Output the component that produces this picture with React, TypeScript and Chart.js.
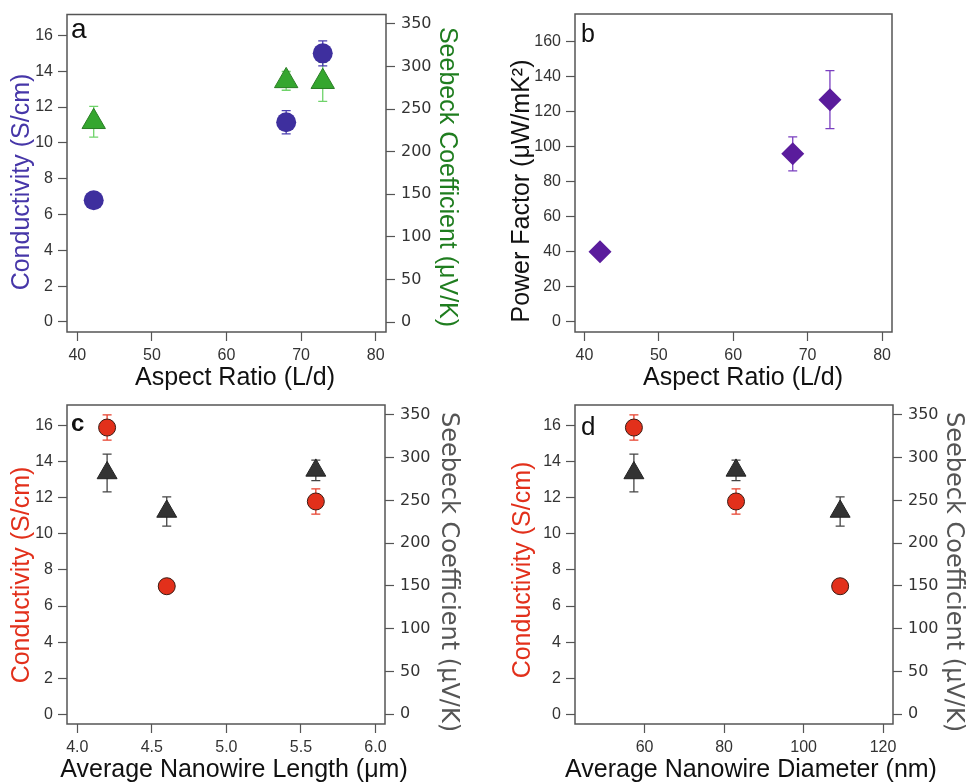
import React, { useEffect, useRef } from "react";
import { Chart, registerables } from "chart.js";

Chart.register(...registerables);

// ---------- data ----------
// Panel a: vs aspect ratio
const aspectRatioA = [42.2, 68, 72.9];
const conductivityA = [6.8, 11.15, 15.0];
const conductivityAErr = [0.15, 0.65, 0.7];
const seebeckA = [235, 283, 282];
const seebeckAErr = [18, 11, 23];

// Panel b: power factor vs aspect ratio
const aspectRatioB = [42.1, 68, 73];
const powerFactorB = [40, 96, 127];
const powerFactorBErr = [3, 9.7, 16.6];

// Panel c: vs average nanowire length
const lengthC = [4.2, 4.6, 5.6];
const conductivityC = [15.9, 7.1, 11.8];
const conductivityCErr = [0.7, 0.15, 0.7];
const seebeckC = [282, 237, 285];
const seebeckCErr = [22, 17, 12];

// Panel d: vs average nanowire diameter
const diameterD = [57.3, 83, 109.2];
const conductivityD = [15.9, 11.8, 7.1];
const conductivityDErr = [0.7, 0.7, 0.15];
const seebeckD = [282, 285, 237];
const seebeckDErr = [22, 12, 17];

// ticks
const condTicks = [0, 2, 4, 6, 8, 10, 12, 14, 16];
const seebeckTicks = [0, 50, 100, 150, 200, 250, 300, 350];
const aspectTicks = [40, 50, 60, 70, 80];
const pfTicks = [0, 20, 40, 60, 80, 100, 120, 140, 160];
const lengthTicks = [4.0, 4.5, 5.0, 5.5, 6.0];
const diameterTicks = [60, 80, 100, 120];

// axis titles
const titleAspect = "Aspect Ratio (L/d)";
const titleLength = "Average Nanowire Length (μm)";
const titleDiameter = "Average Nanowire Diameter (nm)";
const titleCond = "Conductivity (S/cm)";
const titleSeebeck = "Seebeck Coefficient (μV/K)";
const titlePF = "Power Factor (μW/mK²)";

// ---------- plugins ----------
const errorBarPlugin = {
  id: "errorBars",
  beforeDatasetsDraw(chart: any) {
    const ctx = chart.ctx;
    const xs = chart.scales.x;
    chart.data.datasets.forEach((ds: any) => {
      const errs: number[] | undefined = ds.errors;
      if (!errs) return;
      const ys = chart.scales[ds.yAxisID];
      ctx.save();
      ctx.strokeStyle = ds.errorColor;
      ctx.lineWidth = 1.3;
      ds.data.forEach((p: any, j: number) => {
        const e = errs[j];
        if (!e) return;
        const px = xs.getPixelForValue(p.x);
        const yTop = ys.getPixelForValue(p.y + e);
        const yBot = ys.getPixelForValue(p.y - e);
        ctx.beginPath();
        ctx.moveTo(px, yTop);
        ctx.lineTo(px, yBot);
        ctx.moveTo(px - 4.5, yTop);
        ctx.lineTo(px + 4.5, yTop);
        ctx.moveTo(px - 4.5, yBot);
        ctx.lineTo(px + 4.5, yBot);
        ctx.stroke();
      });
      ctx.restore();
    });
  },
};

const framePlugin = {
  id: "frame",
  afterDraw(chart: any, _args: any, opts: any) {
    const { ctx, chartArea } = chart;
    ctx.save();
    ctx.strokeStyle = "#555";
    ctx.lineWidth = 1.5;
    ctx.strokeRect(chartArea.left, chartArea.top, chartArea.right - chartArea.left, chartArea.bottom - chartArea.top);
    if (opts && opts.letter) {
      ctx.fillStyle = "#111";
      ctx.font = opts.font;
      ctx.textBaseline = "alphabetic";
      ctx.textAlign = "left";
      ctx.fillText(opts.letter, chartArea.left + opts.dx, chartArea.top + opts.dy);
    }
    ctx.restore();
  },
};

// axis titles drawn without Chart.js's maxWidth squeeze
const axisTitlePlugin = {
  id: "axisTitles",
  afterDraw(chart: any, _args: any, opts: any) {
    const ctx = chart.ctx;
    (opts.items || []).forEach((t: any) => {
      ctx.save();
      ctx.translate(t.cx, t.cy);
      ctx.rotate(t.rot);
      ctx.font = t.font;
      ctx.fillStyle = t.color;
      ctx.textAlign = "center";
      ctx.textBaseline = "middle";
      ctx.fillText(t.text, 0, 0);
      ctx.restore();
    });
  },
};

// ---------- helpers ----------
const fixedTicks = (vals: number[]) => (s: any) => {
  s.ticks = vals.map((v) => ({ value: v }));
};

const gridCfg = {
  drawOnChartArea: false,
  drawTicks: true,
  tickLength: 9,
  tickColor: "#555",
  tickWidth: 1.2,
};

const ARIAL = "Liberation Sans, Arial, sans-serif";
const DEJAVU = "DejaVu Sans, Verdana, sans-serif";

function xAxis(min: number, max: number, ticks: number[], decimals: number, h: number) {
  return {
    type: "linear",
    position: "bottom",
    min,
    max,
    afterBuildTicks: fixedTicks(ticks),
    afterFit: (s: any) => {
      s.height = h;
      s.paddingLeft = 0;
      s.paddingRight = 0;
    },
    grid: gridCfg,
    border: { display: false },
    ticks: {
      color: "#333",
      padding: 5,
      font: { family: ARIAL, size: 16 },
      callback: (v: number) => v.toFixed(decimals),
    },
    title: { display: false },
  };
}

function yAxis(position: string, min: number, max: number, ticks: number[], w: number, family: string, pad: number) {
  return {
    type: "linear",
    position,
    min,
    max,
    afterBuildTicks: fixedTicks(ticks),
    afterFit: (s: any) => {
      s.width = w;
      s.paddingTop = 0;
      s.paddingBottom = 0;
    },
    grid: gridCfg,
    border: { display: false },
    ticks: {
      color: "#333",
      padding: pad,
      font: { family, size: 16 },
      callback: (v: number) => String(v),
    },
    title: { display: false },
  };
}

function pts(xs: number[], ys: number[]) {
  return xs.map((x, i) => ({ x, y: ys[i] }));
}

const UP = -Math.PI / 2;
const DOWN = Math.PI / 2;

// ---------- panel ----------
function Panel({ config, left, top, width, height }: any) {
  const ref = useRef<HTMLCanvasElement | null>(null);
  useEffect(() => {
    if (!ref.current) return;
    const chart = new Chart(ref.current, config);
    return () => chart.destroy();
  }, []);
  return (
    <div style={{ position: "absolute", left, top, width, height }}>
      <canvas ref={ref} width={width} height={height} style={{ width, height, display: "block" }} />
    </div>
  );
}

const baseOptions = (padTop: number, padRight: number, letter: any, titles: any[], scales: any) => ({
  responsive: false,
  animation: false,
  layout: { padding: { top: padTop, right: padRight, left: 0, bottom: 0 } },
  plugins: {
    legend: { display: false },
    tooltip: { enabled: false },
    frame: letter,
    axisTitles: { items: titles },
  },
  scales,
});

const configA = {
  type: "scatter",
  data: {
    datasets: [
      {
        label: "Seebeck",
        data: pts(aspectRatioA, seebeckA),
        yAxisID: "y1",
        errors: seebeckAErr,
        errorColor: "#6fd36a",
        pointStyle: "triangle",
        pointRadius: 13.5,
        backgroundColor: "#35a62f",
        borderColor: "#2a7d25",
        borderWidth: 1,
      },
      {
        label: "Conductivity",
        data: pts(aspectRatioA, conductivityA),
        yAxisID: "y",
        errors: conductivityAErr,
        errorColor: "#4b3fb0",
        pointStyle: "circle",
        pointRadius: 10,
        backgroundColor: "#3e2f9e",
        borderColor: "#3e2f9e",
        borderWidth: 0,
      },
    ],
  },
  options: baseOptions(
    14,
    0,
    { letter: "a", font: `28px ${ARIAL}`, dx: 4, dy: 23 },
    [
      { text: titleAspect, cx: 235, cy: 378, rot: 0, font: `25px ${ARIAL}`, color: "#111" },
      { text: titleCond, cx: 22, cy: 182, rot: UP, font: `25px ${ARIAL}`, color: "#4636a8" },
      { text: titleSeebeck, cx: 447, cy: 177, rot: DOWN, font: `25px ${ARIAL}`, color: "#1f7d1f" },
    ],
    {
      x: xAxis(38.62, 81.38, aspectTicks, 0, 60),
      y: yAxis("left", -0.56, 17.17, condTicks, 67, ARIAL, 5),
      y1: yAxis("right", -11.7, 360.9, seebeckTicks, 97, DEJAVU, 6),
    }
  ),
  plugins: [errorBarPlugin, framePlugin, axisTitlePlugin],
};

const configB = {
  type: "scatter",
  data: {
    datasets: [
      {
        label: "Power Factor",
        data: pts(aspectRatioB, powerFactorB),
        yAxisID: "y",
        errors: powerFactorBErr,
        errorColor: "#7a3fc0",
        pointStyle: "rectRot",
        pointRadius: 11.5,
        backgroundColor: "#5a1c9c",
        borderColor: "#5a1c9c",
        borderWidth: 0,
      },
    ],
  },
  options: baseOptions(
    14,
    74,
    { letter: "b", font: `25px ${ARIAL}`, dx: 6, dy: 28 },
    [
      { text: titleAspect, cx: 260, cy: 378, rot: 0, font: `25px ${ARIAL}`, color: "#111" },
      { text: titlePF, cx: 39, cy: 191, rot: UP, font: `25px ${ARIAL}`, color: "#111" },
    ],
    {
      x: xAxis(38.74, 81.34, aspectTicks, 0, 60),
      y: yAxis("left", -5.9, 176, pfTicks, 92, ARIAL, 5),
    }
  ),
  plugins: [errorBarPlugin, framePlugin, axisTitlePlugin],
};

const darkTri = {
  pointStyle: "triangle",
  pointRadius: 11.5,
  backgroundColor: "#333333",
  borderColor: "#222222",
  borderWidth: 1,
  errorColor: "#444444",
};
const redDot = {
  pointStyle: "circle",
  pointRadius: 8.5,
  backgroundColor: "#e2301b",
  borderColor: "#3a1a12",
  borderWidth: 1,
  errorColor: "#e8402c",
};

const configC = {
  type: "scatter",
  data: {
    datasets: [
      { label: "Seebeck", data: pts(lengthC, seebeckC), yAxisID: "y1", errors: seebeckCErr, ...darkTri },
      { label: "Conductivity", data: pts(lengthC, conductivityC), yAxisID: "y", errors: conductivityCErr, ...redDot },
    ],
  },
  options: baseOptions(
    13,
    0,
    { letter: "c", font: `bold 24px ${ARIAL}`, dx: 4, dy: 26 },
    [
      { text: titleLength, cx: 234, cy: 378, rot: 0, font: `25px ${ARIAL}`, color: "#111" },
      { text: titleCond, cx: 22, cy: 183, rot: UP, font: `25px ${ARIAL}`, color: "#e2301b" },
      { text: titleSeebeck, cx: 448, cy: 180, rot: DOWN, font: `24px ${DEJAVU}`, color: "#555555" },
    ],
    {
      x: xAxis(3.931, 6.064, lengthTicks, 1, 59),
      y: yAxis("left", -0.54, 17.15, condTicks, 67, ARIAL, 5),
      y1: yAxis("right", -11.3, 361.4, seebeckTicks, 98, DEJAVU, 6),
    }
  ),
  plugins: [errorBarPlugin, framePlugin, axisTitlePlugin],
};

const configD = {
  type: "scatter",
  data: {
    datasets: [
      { label: "Seebeck", data: pts(diameterD, seebeckD), yAxisID: "y1", errors: seebeckDErr, ...darkTri },
      { label: "Conductivity", data: pts(diameterD, conductivityD), yAxisID: "y", errors: conductivityDErr, ...redDot },
    ],
  },
  options: baseOptions(
    13,
    0,
    { letter: "d", font: `26px ${ARIAL}`, dx: 6, dy: 30 },
    [
      { text: titleDiameter, cx: 268, cy: 378, rot: 0, font: `25px ${ARIAL}`, color: "#111" },
      { text: titleCond, cx: 40, cy: 178, rot: UP, font: `25px ${ARIAL}`, color: "#e2301b" },
      { text: titleSeebeck, cx: 470, cy: 180, rot: DOWN, font: `24px ${DEJAVU}`, color: "#555555" },
    ],
    {
      x: xAxis(42.48, 122.5, diameterTicks, 0, 59),
      y: yAxis("left", -0.54, 17.15, condTicks, 92, ARIAL, 5),
      y1: yAxis("right", -11.3, 361.4, seebeckTicks, 73, DEJAVU, 6),
    }
  ),
  plugins: [errorBarPlugin, framePlugin, axisTitlePlugin],
};

export default function App() {
  return (
    <div style={{ position: "fixed", left: 0, top: 0, width: 966, height: 783, background: "#fff", overflow: "hidden" }}>
      <Panel config={configA} left={0} top={0} width={483} height={392} />
      <Panel config={configB} left={483} top={0} width={483} height={392} />
      <Panel config={configC} left={0} top={392} width={483} height={391} />
      <Panel config={configD} left={483} top={392} width={483} height={391} />
    </div>
  );
}
